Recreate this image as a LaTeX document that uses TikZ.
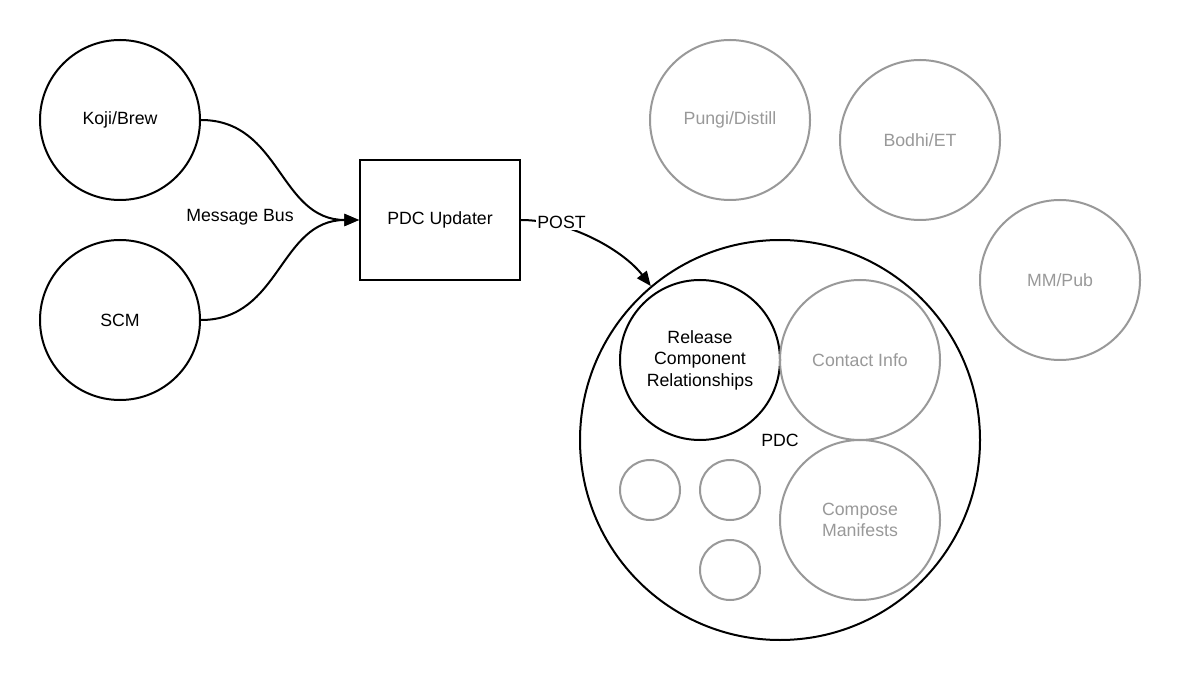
\documentclass[tikz,border=0pt]{standalone}
\usepackage{fontspec}
\setmainfont{Liberation Sans}
\usetikzlibrary{arrows.meta}
\definecolor{lgray}{HTML}{999999}
\begin{document}
\begin{tikzpicture}[x=0.75pt,y=-0.75pt,line width=1.5pt,
  every node/.style={font=\fontsize{13.3}{16.1}\selectfont,align=center,inner sep=0pt},
  bigc/.style={circle,draw,minimum size=120pt},
  graybig/.style={circle,draw=lgray,text=lgray,minimum size=120pt},
  grayhuge/.style={circle,draw,minimum size=300pt},
  graysmall/.style={circle,draw=lgray,minimum size=45pt},
  boxnode/.style={rectangle,draw,minimum width=120pt,minimum height=90pt},
  conn/.style={-{Triangle[length=11pt,width=9pt]},line width=1.5pt},
  lbl/.style={fill=white,inner sep=1pt}]
\useasboundingbox[fill=white] (0,0) rectangle (1180,680);
% sources
\node[bigc] (koji) at (120,120) {Koji/Brew};
\node[bigc] (scm) at (120,320) {SCM};
\node[boxnode] (updater) at (440,220) {PDC Updater};
\node (bus) at (240,217) {Message Bus};
% outer systems
\node[graybig] (pungi) at (730,120) {Pungi/Distill};
\node[graybig] (bodhi) at (920,140) {Bodhi/ET};
\node[graybig] (mm) at (1060,280) {MM/Pub};
% PDC
\node[grayhuge] (pdc) at (780,440) {PDC};
\node[bigc] (rcr) at (700,360) {Release\\Component\\Relationships};
\node[graybig] (contact) at (860,360) {Contact Info};
\node[graybig] (compose) at (860,520) {Compose\\Manifests};
\node[graysmall] (s1) at (650,490) {};
\node[graysmall] (s2) at (730,490) {};
\node[graysmall] (s3) at (730,570) {};
% connectors
\draw[conn] (koji.east) .. controls +(80,0) and +(-80,0) .. (updater.west);
\draw[conn] (scm.east) .. controls +(80,0) and +(-80,0) .. (updater.west);
\draw[conn] (updater.east) .. controls +(50,0) and +(-27,-35) .. (pdc.130)
  node[lbl,pos=0.27,yshift=3pt] (post) {POST};
\end{tikzpicture}
\end{document}
